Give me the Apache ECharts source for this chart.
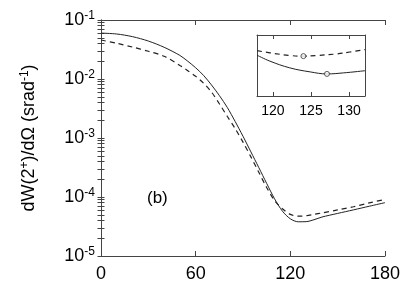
<!DOCTYPE html>
<html><head><meta charset="utf-8">
<script src="https://cdn.jsdelivr.net/npm/echarts@6/dist/echarts.min.js"></script>
<style>html,body{margin:0;padding:0;background:#fff}#c{width:415px;height:291px}</style>
</head><body><div id="c"></div>
<script>
const angles = [0,10,20,30,40,50,55,60,65,70,75,80,85,90,95,100,105,110,115,120,125,130,135,140,150,160,170,180];
const solidVals = [0.0600,0.0579,0.0522,0.0440,0.0345,0.0251,0.0200,0.0155,0.0115,0.00794,0.00525,0.00331,0.00191,0.00107,0.000582,0.000316,0.000170,0.0000933,0.0000575,0.0000427,0.0000380,0.0000382,0.0000412,0.0000457,0.0000527,0.0000605,0.0000697,0.0000802];
const dashedVals = [0.0458,0.0403,0.0348,0.0295,0.0243,0.0170,0.0138,0.0111,0.00851,0.00603,0.00380,0.00234,0.00145,0.000851,0.000479,0.000263,0.000145,0.0000871,0.0000631,0.0000507,0.0000473,0.0000481,0.0000507,0.0000537,0.0000603,0.0000684,0.0000794,0.0000912];
const insetSolidX = [117.9,119.6,122.2,124.9,127.1,129.25,132.1];
const insetSolidVals = [4.81e-5,4.45e-5,4.08e-5,3.87e-5,3.77e-5,3.82e-5,3.93e-5];
const insetDashedX = [117.9,119.6,122.2,124.0,125.75,128.4,130.1,132.1];
const insetDashedVals = [5.10e-5,4.96e-5,4.79e-5,4.75e-5,4.79e-5,4.89e-5,5.01e-5,5.17e-5];
const minimaX = [124.0,127.1];
const minimaVals = [4.75e-5,3.77e-5];
const xTicks = [0,60,120,180];
const yTickExps = [-5,-4,-3,-2,-1];
const insetTicks = [120,125,130];
const panelLabel = '(b)';

const majorVals = yTickExps.map(e => Math.pow(10, e));
const allTickVals = majorVals.slice();
for (let e = -5; e <= -2; e++) for (let m = 2; m <= 9; m++) allTickVals.push(m * Math.pow(10, e));

const FONT = 'Liberation Sans';
const lineCol = '#222';
const frameCol = '#444';
const zip = (xs, ys) => xs.map((x, i) => [x, ys[i]]);

const chart = echarts.init(document.getElementById('c'), null, {renderer: 'canvas'});
const axisLine = {show: true, lineStyle: {color: frameCol, width: 1}};
const supRich = {fontSize: 12, fontFamily: FONT, color: '#000', verticalAlign: 'top', padding: [0,0,8,0]};
chart.setOption({
  animation: false,
  backgroundColor: '#fff',
  textStyle: {fontFamily: FONT},
  grid: [
    {left: 101, top: 20, width: 284, height: 236},
    {left: 257, top: 35, width: 108, height: 61, backgroundColor: '#fff', show: true, borderWidth: 0}
  ],
  xAxis: [
    {gridIndex: 0, type: 'value', position: 'bottom', min: 0, max: 180, interval: 60,
     axisLine, splitLine: {show: false},
     axisTick: {inside: true, length: 5, lineStyle: {color: frameCol}, customValues: xTicks},
     axisLabel: {customValues: xTicks, fontSize: 18, color: '#000', margin: 9, fontFamily: FONT}},
    {gridIndex: 0, type: 'value', position: 'top', min: 0, max: 180, interval: 60,
     axisLine, splitLine: {show: false},
     axisTick: {inside: true, length: 5, lineStyle: {color: frameCol}, customValues: xTicks},
     axisLabel: {show: false}},
    {gridIndex: 1, type: 'value', position: 'bottom', min: 117.9, max: 132.1,
     axisLine, splitLine: {show: false},
     axisTick: {inside: true, length: 4, lineStyle: {color: frameCol}, customValues: insetTicks},
     axisLabel: {customValues: insetTicks, fontSize: 14, color: '#000', margin: 8, fontFamily: FONT}},
    {gridIndex: 1, type: 'value', position: 'top', min: 117.9, max: 132.1,
     axisLine, splitLine: {show: false},
     axisTick: {inside: true, length: 4, lineStyle: {color: frameCol}, customValues: insetTicks},
     axisLabel: {show: false}}
  ],
  yAxis: [
    {gridIndex: 0, type: 'log', logBase: 10, min: 1e-5, max: 1e-1, position: 'left',
     axisLine, splitLine: {show: false},
     axisTick: {inside: true, length: 3.5, lineStyle: {color: frameCol}, customValues: allTickVals},
     axisLabel: {customValues: majorVals, margin: 6, color: '#000', fontFamily: FONT,
       formatter: v => '{b|10}{s|' + Math.round(Math.log10(v)) + '}',
       rich: {b: {fontSize: 18, fontFamily: FONT, color: '#000'}, s: supRich}},
     name: '{t|dW(2}{s|+}{t|)/dΩ (srad}{s|-1}{t|)}', nameLocation: 'middle', nameRotate: 90, nameGap: 62,
     nameTextStyle: {rich: {t: {fontSize: 18, fontFamily: FONT, color: '#000'}, s: supRich}}},
    {gridIndex: 0, type: 'log', logBase: 10, min: 1e-5, max: 1e-1, position: 'right',
     axisLine, splitLine: {show: false},
     axisTick: {inside: true, length: 3.5, lineStyle: {color: frameCol}, customValues: allTickVals},
     axisLabel: {show: false}},
    {gridIndex: 1, type: 'log', logBase: 10, min: 2.83e-5, max: 6.25e-5, position: 'left',
     axisLine, splitLine: {show: false}, axisTick: {show: false}, axisLabel: {show: false}},
    {gridIndex: 1, type: 'log', logBase: 10, min: 2.83e-5, max: 6.25e-5, position: 'right',
     axisLine, splitLine: {show: false}, axisTick: {show: false}, axisLabel: {show: false}}
  ],
  series: [
    {type: 'line', xAxisIndex: 0, yAxisIndex: 0, data: zip(angles, solidVals), smooth: 0.3, symbol: 'none',
     lineStyle: {color: lineCol, width: 1}},
    {type: 'line', xAxisIndex: 0, yAxisIndex: 0, data: zip(angles, dashedVals), smooth: 0.3, symbol: 'none',
     lineStyle: {color: lineCol, width: 1.2, type: [5, 4]}},
    {type: 'line', xAxisIndex: 2, yAxisIndex: 2, data: zip(insetSolidX, insetSolidVals), smooth: 0.4, symbol: 'none',
     lineStyle: {color: lineCol, width: 1}},
    {type: 'line', xAxisIndex: 2, yAxisIndex: 2, data: zip(insetDashedX, insetDashedVals), smooth: 0.4, symbol: 'none',
     lineStyle: {color: lineCol, width: 1.2, type: [5, 4]}},
    {type: 'scatter', xAxisIndex: 2, yAxisIndex: 2, data: zip(minimaX, minimaVals), symbol: 'circle', symbolSize: 5,
     itemStyle: {color: '#fff', borderColor: '#333', borderWidth: 1}, z: 5}
  ],
  graphic: [
    {type: 'text', left: 147, top: 190, style: {text: panelLabel, fontSize: 17, fontFamily: FONT, fill: '#000'}}
  ]
});
</script></body></html>
